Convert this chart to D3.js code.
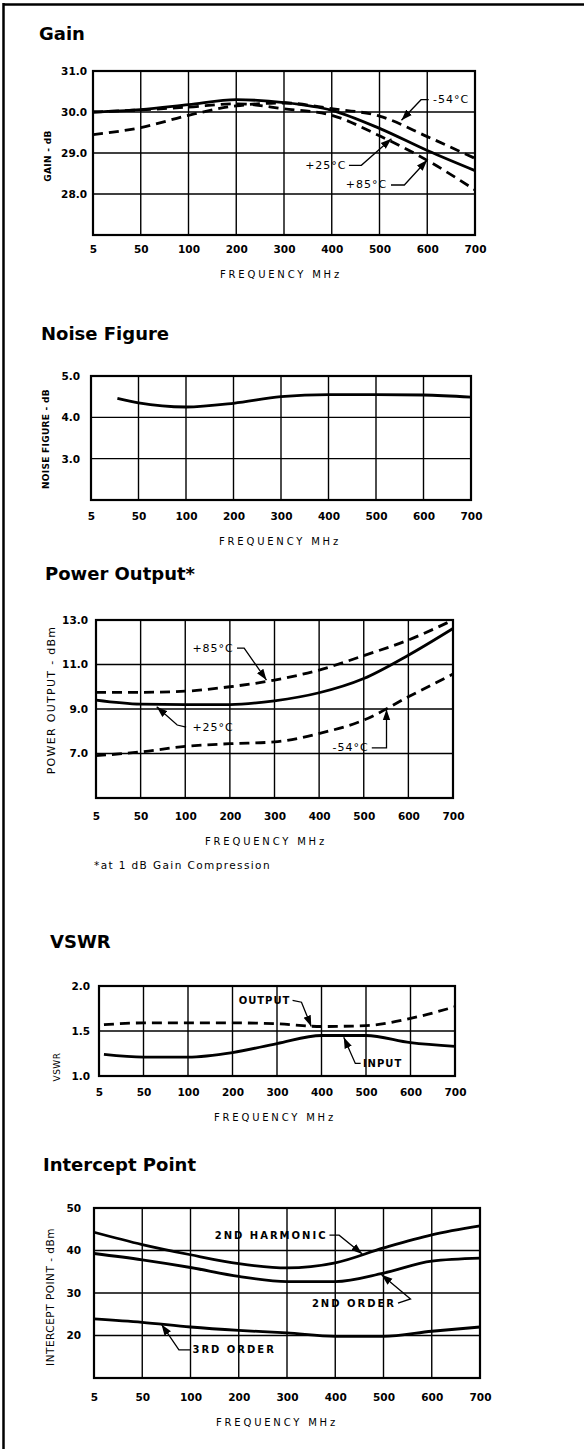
<!DOCTYPE html>
<html>
<head>
<meta charset="utf-8">
<script src="https://cdn.jsdelivr.net/npm/d3@7"></script>
<style>
  body { margin: 0; background: #fff; }
  text { font-family: "DejaVu Sans", sans-serif; fill: #000; }
</style>
</head>
<body>
<div id="sheet"></div>
<script>
// shared frequency ticks (MHz), evenly spaced on the sheet
const freqTicks = [5, 50, 100, 200, 300, 400, 500, 600, 700];

// gain, dB
const gainFreqs = [5, 50, 100, 200, 300, 400, 500, 600, 700];
const gainP25 = [30.0, 30.06, 30.18, 30.3, 30.23, 30.04, 29.6, 29.06, 28.57];
const gainP85 = [30.0, 30.05, 30.12, 30.2, 30.08, 29.92, 29.42, 28.82, 28.1];
const gainM54 = [29.45, 29.62, 29.92, 30.15, 30.22, 30.08, 29.9, 29.4, 28.87];

// noise figure, dB
const noiseFreqs = [30, 50, 100, 200, 300, 400, 500, 600, 700];
const noiseFig = [4.46, 4.35, 4.25, 4.34, 4.5, 4.55, 4.55, 4.54, 4.49];

// power output at 1 dB compression, dBm
const powerFreqs = [5, 50, 100, 200, 300, 400, 500, 600, 700];
const powerP85 = [9.75, 9.75, 9.8, 10.0, 10.3, 10.75, 11.4, 12.1, 13.0];
const powerP25 = [9.4, 9.22, 9.2, 9.2, 9.37, 9.73, 10.37, 11.42, 12.62];
const powerM54 = [6.9, 7.07, 7.32, 7.44, 7.52, 7.9, 8.5, 9.55, 10.57];

// vswr
const vswrFreqs = [10, 50, 100, 200, 300, 400, 500, 600, 700];
const vswrOutput = [1.57, 1.59, 1.59, 1.59, 1.58, 1.55, 1.56, 1.64, 1.77];
const vswrInput = [1.24, 1.21, 1.21, 1.26, 1.36, 1.45, 1.45, 1.37, 1.33];

// intercept point, dBm
const ipFreqs = [5, 50, 100, 200, 300, 400, 500, 600, 700];
const ip2ndHarm = [44.3, 41.4, 39.0, 36.9, 35.9, 37.1, 40.6, 43.7, 45.8];
const ip2ndOrder = [39.3, 37.8, 36.0, 33.9, 32.7, 32.7, 34.7, 37.5, 38.2];
const ip3rdOrder = [23.9, 23.1, 22.0, 21.2, 20.6, 19.8, 19.8, 21.0, 22.0];

const f1 = d3.format(".1f");
const f0 = d3.format("d");

const charts = [
    {
        title: "Gain", titlePos: [39, 40],
        box: { left: 93, right: 475, top: 71, bottom: 235 },
        yDomain: [27, 31], yTicks: [28, 29, 30, 31], yFormat: f1, yPad: 6, xPad: 11,
        yLabel: "GAIN - dB", yLabelPos: [48, 156], yLabelSize: 9, yLabelBold: true, yLabelSpacing: 0.3,
        xLabelX: 281,
        series: [
            { freqs: gainFreqs, values: gainP25, dashed: false },
            { freqs: gainFreqs, values: gainP85, dashed: true },
            { freqs: gainFreqs, values: gainM54, dashed: true }
        ],
        notes: [
            { text: "-54°C", at: [612, 30.3], anchor: "start", path: [[603, 30.3], [587, 30.3], [546, 29.8]] },
            { text: "+25°C", at: [431, 28.7], anchor: "end", path: [[436, 28.7], [462, 28.7], [525, 29.35]] },
            { text: "+85°C", at: [516, 28.22], anchor: "end", path: [[524, 28.22], [552, 28.22], [600, 28.83]] }
        ]
    },
    {
        title: "Noise Figure", titlePos: [41, 340],
        box: { left: 91, right: 471, top: 376, bottom: 500 },
        yDomain: [2, 5], yTicks: [3, 4, 5], yFormat: f1, yPad: 11, xPad: 13,
        yLabel: "NOISE FIGURE - dB", yLabelPos: [46, 439], yLabelSize: 9, yLabelBold: true, yLabelSpacing: 0.3,
        xLabelX: 280,
        series: [
            { freqs: noiseFreqs, values: noiseFig, dashed: false }
        ],
        notes: []
    },
    {
        title: "Power Output*", titlePos: [45, 580],
        box: { left: 96, right: 453, top: 620, bottom: 798 },
        yDomain: [5, 13], yTicks: [7, 9, 11, 13], yFormat: f1, yPad: 8, xPad: 15,
        yLabel: "POWER OUTPUT - dBm", yLabelPos: [51, 700], yLabelSize: 11, yLabelBold: false, yLabelSpacing: 1.3,
        xLabelX: 266,
        footnote: "*at 1 dB Gain Compression", footnotePos: [94, 869],
        series: [
            { freqs: powerFreqs, values: powerP85, dashed: true },
            { freqs: powerFreqs, values: powerP25, dashed: false },
            { freqs: powerFreqs, values: powerM54, dashed: true }
        ],
        notes: [
            { text: "+85°C", at: [116, 11.74], anchor: "start", path: [[216, 11.74], [232, 11.74], [282, 10.3]] },
            { text: "+25°C", at: [116, 8.19], anchor: "start", path: [[102, 8.19], [91, 8.28], [68, 9.1]] },
            { text: "-54°C", at: [430, 7.25], anchor: "start", path: [[518, 7.25], [551, 7.25], [551, 8.98]] }
        ]
    },
    {
        title: "VSWR", titlePos: [50, 948],
        box: { left: 99, right: 455, top: 986, bottom: 1076 },
        yDomain: [1, 2], yTicks: [1, 1.5, 2], yFormat: f1, yPad: 9, xPad: 13,
        yLabel: "VSWR", yLabelPos: [57, 1067], yLabelSize: 9, yLabelBold: false, yLabelSpacing: 0.5,
        xLabelX: 275,
        series: [
            { freqs: vswrFreqs, values: vswrOutput, dashed: true },
            { freqs: vswrFreqs, values: vswrInput, dashed: false }
        ],
        notes: [
            { text: "OUTPUT", at: [330, 1.84], anchor: "end", bold: true, path: [[335, 1.84], [355, 1.82], [377, 1.55]] },
            { text: "INPUT", at: [493, 1.14], anchor: "start", bold: true, path: [[488, 1.14], [476, 1.14], [450, 1.43]] }
        ]
    },
    {
        title: "Intercept Point", titlePos: [43, 1171],
        box: { left: 94, right: 480, top: 1208, bottom: 1378 },
        yDomain: [10, 50], yTicks: [20, 30, 40, 50], yFormat: f0, yPad: 13, xPad: 16,
        yLabel: "INTERCEPT POINT - dBm", yLabelPos: [50, 1297], yLabelSize: 10.5, yLabelBold: false, yLabelSpacing: 0.5,
        xLabelX: 277,
        series: [
            { freqs: ipFreqs, values: ip2ndHarm, dashed: false },
            { freqs: ipFreqs, values: ip2ndOrder, dashed: false },
            { freqs: ipFreqs, values: ip3rdOrder, dashed: false }
        ],
        notes: [
            { text: "2ND HARMONIC", at: [384, 43.6], anchor: "end", bold: true, spaced: true, path: [[388, 43.6], [408, 43.6], [456, 39.2]] },
            { text: "2ND ORDER", at: [526, 27.6], anchor: "end", bold: true, spaced: true, path: [[530, 27.6], [556, 28.6], [496, 34.3]] },
            { text: "3RD ORDER", at: [104, 16.6], anchor: "start", bold: true, spaced: true, path: [[100, 16.6], [88, 16.6], [70, 22.6]] }
        ]
    }
];

const svg = d3.select("#sheet")
    .append("svg")
    .attr("width", 584)
    .attr("height", 1449);

// arrowhead for the leader lines
svg.append("defs").append("marker")
    .attr("id", "arrow")
    .attr("viewBox", "0 0 10 10")
    .attr("refX", 10)
    .attr("refY", 5)
    .attr("markerWidth", 11)
    .attr("markerHeight", 11)
    .attr("markerUnits", "userSpaceOnUse")
    .attr("orient", "auto")
    .append("path")
    .attr("d", "M0,1.5L10,5L0,8.5Z")
    .attr("fill", "#000");

// page rule, top and left
svg.append("line").attr("x1", 3).attr("x2", 584).attr("y1", 4.5).attr("y2", 4.5)
    .attr("stroke", "#000").attr("stroke-width", 2.5);
svg.append("line").attr("x1", 3.5).attr("x2", 3.5).attr("y1", 3).attr("y2", 1449)
    .attr("stroke", "#000").attr("stroke-width", 2.5);

charts.forEach(c => {
    const b = c.box;
    const step = (b.right - b.left) / (freqTicks.length - 1);
    const x = d3.scaleLinear()
        .domain(freqTicks)
        .range(freqTicks.map((d, i) => b.left + i * step));
    const y = d3.scaleLinear().domain(c.yDomain).range([b.bottom, b.top]);

    const g = svg.append("g");

    // title
    g.append("text")
        .attr("x", c.titlePos[0])
        .attr("y", c.titlePos[1])
        .style("font-size", "18px")
        .style("font-weight", "bold")
        .text(c.title);

    // grid
    g.selectAll(".vgrid").data(freqTicks).enter()
        .append("line")
        .attr("x1", d => x(d)).attr("x2", d => x(d))
        .attr("y1", b.top).attr("y2", b.bottom)
        .attr("stroke", "#000").attr("stroke-width", 1.4);

    g.selectAll(".hgrid").data(c.yTicks).enter()
        .append("line")
        .attr("x1", b.left).attr("x2", b.right)
        .attr("y1", d => y(d)).attr("y2", d => y(d))
        .attr("stroke", "#000").attr("stroke-width", 1.3);

    g.append("rect")
        .attr("x", b.left).attr("y", b.top)
        .attr("width", b.right - b.left).attr("height", b.bottom - b.top)
        .attr("fill", "none").attr("stroke", "#000").attr("stroke-width", 2.2);

    // axes, labels only
    g.append("g")
        .attr("transform", `translate(0,${b.bottom})`)
        .call(d3.axisBottom(x).tickValues(freqTicks).tickSize(0).tickPadding(c.xPad).tickFormat(f0))
        .call(a => a.select(".domain").remove())
        .attr("font-family", "DejaVu Sans")
        .attr("font-size", 10.5)
        .attr("font-weight", "bold");

    g.append("g")
        .attr("transform", `translate(${b.left},0)`)
        .call(d3.axisLeft(y).tickValues(c.yTicks).tickSize(0).tickPadding(c.yPad).tickFormat(c.yFormat))
        .call(a => a.select(".domain").remove())
        .attr("font-family", "DejaVu Sans")
        .attr("font-size", 10.5)
        .attr("font-weight", "bold");

    // x-axis label
    g.append("text")
        .attr("x", c.xLabelX)
        .attr("y", b.bottom + c.xPad + 32)
        .attr("text-anchor", "middle")
        .style("font-size", "10px")
        .style("letter-spacing", "2.8px")
        .text("FREQUENCY MHz");

    // y-axis label
    g.append("text")
        .attr("transform", `translate(${c.yLabelPos[0]},${c.yLabelPos[1]}) rotate(-90)`)
        .attr("text-anchor", "middle")
        .attr("dominant-baseline", "central")
        .style("font-size", c.yLabelSize + "px")
        .style("font-weight", c.yLabelBold ? "bold" : "normal")
        .style("letter-spacing", c.yLabelSpacing + "px")
        .text(c.yLabel);

    if (c.footnote) {
        g.append("text")
            .attr("x", c.footnotePos[0])
            .attr("y", c.footnotePos[1])
            .style("font-size", "10.5px")
            .style("letter-spacing", "1.4px")
            .text(c.footnote);
    }

    // curves
    const line = d3.line()
        .x(d => x(d[0]))
        .y(d => y(d[1]))
        .curve(d3.curveMonotoneX);

    c.series.forEach(s => {
        g.append("path")
            .datum(s.freqs.map((f, i) => [f, s.values[i]]))
            .attr("d", line)
            .attr("fill", "none")
            .attr("stroke", "#000")
            .attr("stroke-width", 2.8)
            .attr("stroke-dasharray", s.dashed ? "10,6" : null);
    });

    // callouts
    const leader = d3.line().x(d => x(d[0])).y(d => y(d[1]));
    c.notes.forEach(n => {
        g.append("path")
            .attr("d", leader(n.path))
            .attr("fill", "none")
            .attr("stroke", "#000")
            .attr("stroke-width", 1.3)
            .attr("marker-end", "url(#arrow)");

        g.append("text")
            .attr("x", x(n.at[0]))
            .attr("y", y(n.at[1]))
            .attr("text-anchor", n.anchor)
            .attr("dominant-baseline", "central")
            .style("font-size", n.bold ? "10px" : "11px")
            .style("font-weight", n.bold ? "bold" : "normal")
            .style("letter-spacing", n.spaced ? "2px" : "1px")
            .text(n.text);
    });
});
</script>
</body>
</html>
